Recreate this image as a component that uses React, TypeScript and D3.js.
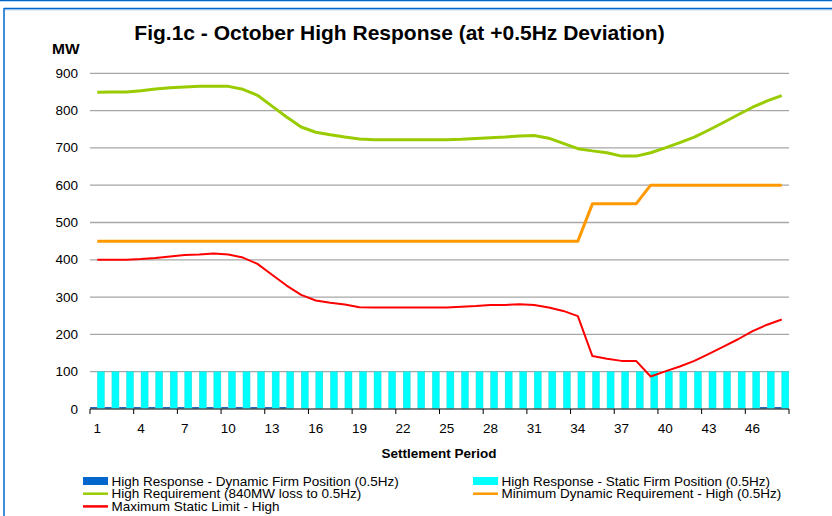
import React from "react";
import * as d3 from "d3";

const periods: number[] = Array.from({ length: 48 }, (_, i) => i + 1);

const dynamicFirm: number[] = [
  5, 5, 5, 5, 5, 5, 5, 5, 5, 5, 5, 5, 5, 5, 0, 0, 0, 0, 0, 0, 0, 0, 0, 0,
  0, 0, 0, 0, 0, 0, 0, 0, 0, 0, 0, 0, 0, 0, 0, 0, 0, 0, 0, 0, 0, 0, 5, 5,
];

const staticFirm: number[] = [
  100, 100, 100, 100, 100, 100, 100, 100, 100, 100, 100, 100, 100, 100, 100, 100,
  100, 100, 100, 100, 100, 100, 100, 100, 100, 100, 100, 100, 100, 100, 100, 100,
  100, 100, 100, 100, 100, 100, 100, 100, 100, 100, 100, 100, 100, 100, 100, 100,
];

const highRequirement: number[] = [
  849, 850, 850, 853, 858, 861, 863, 865, 865, 865, 857, 841, 812, 783, 756, 742,
  735, 729, 724, 722, 722, 722, 722, 722, 722, 723, 725, 727, 729, 732, 733, 726,
  712, 698, 692, 687, 678, 678, 687, 700, 714, 729, 748, 768, 789, 809, 826, 840,
];

const minDynamic: number[] = [
  450, 450, 450, 450, 450, 450, 450, 450, 450, 450, 450, 450, 450, 450, 450, 450,
  450, 450, 450, 450, 450, 450, 450, 450, 450, 450, 450, 450, 450, 450, 450, 450,
  450, 450, 550, 550, 550, 550, 600, 600, 600, 600, 600, 600, 600, 600, 600, 600,
];

const maxStatic: number[] = [
  400, 400, 400, 402, 405, 409, 413, 414, 417, 414, 406, 389, 360, 331, 306, 291,
  285, 280, 273, 272, 272, 272, 272, 272, 272, 274, 276, 279, 279, 281, 279, 272,
  263, 249, 142, 135, 129, 129, 87, 101, 114, 129, 148, 167, 187, 209, 226, 240,
];

const yTicks: number[] = [0, 100, 200, 300, 400, 500, 600, 700, 800, 900];
const xTickLabels: number[] = [1, 4, 7, 10, 13, 16, 19, 22, 25, 28, 31, 34, 37, 40, 43, 46];

const title = "Fig.1c - October High Response (at +0.5Hz Deviation)";
const yAxisTitle = "MW";
const xAxisTitle = "Settlement Period";

const legendItems = [
  { label: "High Response - Dynamic Firm Position (0.5Hz)", color: "#0066CC", kind: "rect" },
  { label: "High Response - Static Firm Position (0.5Hz)", color: "#00FFFF", kind: "rect" },
  { label: "High Requirement (840MW loss to 0.5Hz)", color: "#99CC00", kind: "line" },
  { label: "Minimum Dynamic Requirement - High (0.5Hz)", color: "#FF9900", kind: "line" },
  { label: "Maximum Static Limit - High", color: "#FF0000", kind: "line" },
];

const W = 832;
const H = 516;
const left = 90;
const right = 789;
const top = 73.3;
const bottom = 409;
const font = "'Liberation Sans', Arial, sans-serif";

export default function App() {
  const x = d3.scaleBand<number>().domain(periods).range([left, right]).padding(0);
  const bw = x.bandwidth();
  const inner = d3
    .scaleBand<string>()
    .domain(["dyn", "stat"])
    .range([0, bw])
    .paddingInner(0.02)
    .paddingOuter(0.02);
  const y = d3.scaleLinear().domain([0, 900]).range([bottom, top]);

  const cx = (p: number) => (x(p) as number) + bw / 2;
  const lineGen = (vals: number[]) =>
    d3
      .line<number>()
      .x((_, i) => cx(periods[i]))
      .y((v) => y(v))(vals) as string;

  const tickIdx = [0, 3, 6, 9, 12, 15, 18, 21, 24, 27, 30, 33, 36, 39, 42, 45];

  return (
    <svg
      width={W}
      height={H}
      style={{ position: "absolute", left: 0, top: 0, background: "#fff" }}
      fontFamily={font}
    >
      <rect x={0} y={0} width={W} height={H} fill="#fff" />
      {/* frame */}
      <line x1={0} x2={W} y1={0.5} y2={0.5} stroke="#0066CC" strokeWidth={1.5} />
      <line x1={4} x2={W} y1={8.5} y2={8.5} stroke="#0066CC" strokeWidth={1.5} />
      <line x1={5} x2={W} y1={9.8} y2={9.8} stroke="#8FBDEB" strokeWidth={1} />
      <line x1={4} x2={4} y1={8} y2={H} stroke="#0066CC" strokeWidth={1.5} />

      {/* title */}
      <text x={399.5} y={40} textAnchor="middle" fontSize={21} fontWeight="bold" fill="#000">
        {title}
      </text>
      <text x={52} y={54} fontSize={15.5} fontWeight="bold" fill="#000">
        {yAxisTitle}
      </text>

      {/* gridlines */}
      {yTicks.slice(1).map((t) => (
        <line key={t} x1={left} x2={right} y1={y(t)} y2={y(t)} stroke="#A6A6A6" strokeWidth={1.3} />
      ))}
      {yTicks.map((t) => (
        <text key={"yl" + t} x={78} y={y(t) + 4.5} textAnchor="end" fontSize={13.5} fill="#000">
          {t}
        </text>
      ))}

      {/* bars */}
      {periods.map((p, i) => (
        <g key={"b" + p}>
          {dynamicFirm[i] > 0 && (
            <rect
              x={(x(p) as number) + (inner("dyn") as number)}
              y={y(dynamicFirm[i])}
              width={inner.bandwidth()}
              height={y(0) - y(dynamicFirm[i])}
              fill="#0055B8"
            />
          )}
          <rect
            x={(x(p) as number) + (inner("stat") as number)}
            y={y(staticFirm[i])}
            width={inner.bandwidth()}
            height={y(0) - y(staticFirm[i])}
            fill="#00FFFF"
            stroke="#33CCCC"
            strokeWidth={0.4}
          />
        </g>
      ))}

      {/* x axis */}
      <line x1={left} x2={right} y1={bottom} y2={bottom} stroke="#555" strokeWidth={1.3} />
      {[...tickIdx.map((k) => x(periods[k]) as number), right].map((tx, k) => (
        <line key={"t" + k} x1={tx} x2={tx} y1={bottom} y2={bottom + 5} stroke="#000" strokeWidth={1} />
      ))}
      {xTickLabels.map((p) => (
        <text key={"xl" + p} x={cx(p)} y={433} textAnchor="middle" fontSize={13.5} fill="#000">
          {p}
        </text>
      ))}
      <text x={439} y={458} textAnchor="middle" fontSize={13.5} fontWeight="bold" fill="#000">
        {xAxisTitle}
      </text>

      {/* lines */}
      <path d={lineGen(highRequirement)} fill="none" stroke="#99CC00" strokeWidth={3} strokeLinejoin="round" />
      <path d={lineGen(minDynamic)} fill="none" stroke="#FF9900" strokeWidth={3} strokeLinejoin="round" />
      <path d={lineGen(maxStatic)} fill="none" stroke="#FF0000" strokeWidth={2} strokeLinejoin="round" />

      {/* legend */}
      {legendItems.map((it, k) => {
        const col = k % 2;
        const row = Math.floor(k / 2);
        const sx = col === 0 ? 83 : 473;
        const cy = 481 + row * 12.7;
        return (
          <g key={"lg" + k}>
            {it.kind === "rect" ? (
              <rect x={sx} y={cy - 4} width={25} height={8} fill={it.color} />
            ) : (
              <line x1={sx} x2={sx + 25} y1={cy} y2={cy} stroke={it.color} strokeWidth={2.5} />
            )}
            <text x={sx + 28.5} y={cy + 4.5} fontSize={13.5} fill="#000">
              {it.label}
            </text>
          </g>
        );
      })}
    </svg>
  );
}
